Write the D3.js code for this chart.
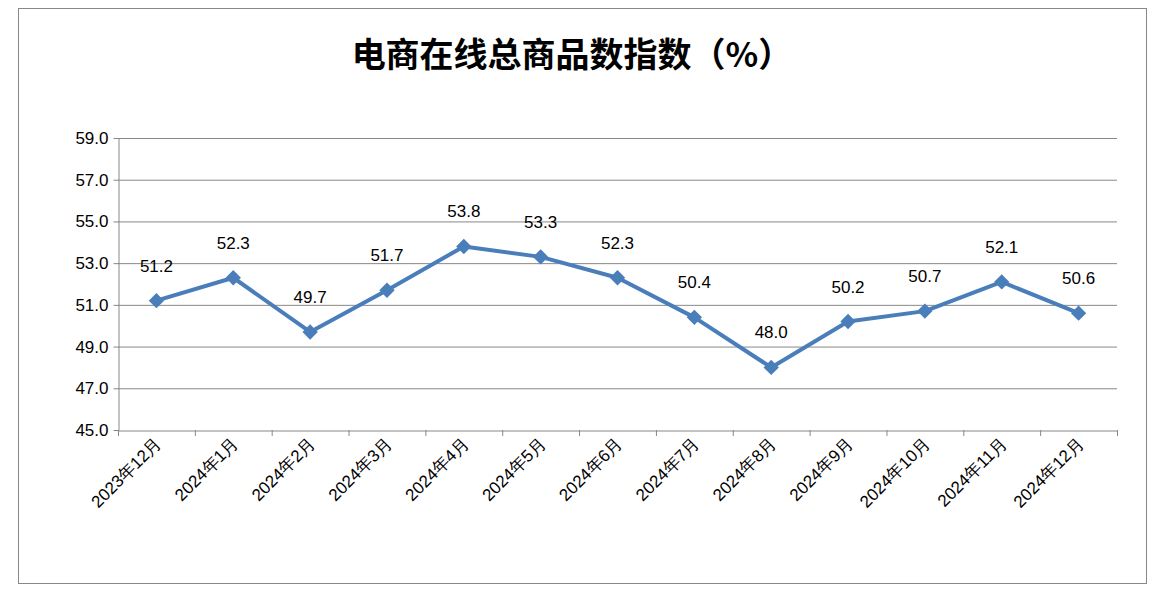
<!DOCTYPE html>
<html lang="zh">
<head>
<meta charset="UTF-8">
<title>电商在线总商品数指数</title>
<script src="https://cdn.jsdelivr.net/npm/d3@7"></script>
<style>
    body { margin: 0; background: #fff; font-family: "Noto Sans CJK SC", "Noto Sans", sans-serif; }
</style>
</head>
<body>
<svg id="chart" width="1162" height="601"></svg>
<script>
    const months = ["2023年12月", "2024年1月", "2024年2月", "2024年3月", "2024年4月", "2024年5月",
        "2024年6月", "2024年7月", "2024年8月", "2024年9月", "2024年10月", "2024年11月", "2024年12月"];
    const values = [51.2, 52.3, 49.7, 51.7, 53.8, 53.3, 52.3, 50.4, 48.0, 50.2, 50.7, 52.1, 50.6];
    const yTicks = [45, 47, 49, 51, 53, 55, 57, 59];

    const svg = d3.select("#chart");
    const plotLeft = 118, plotRight = 1117, plotTop = 138, plotBottom = 430;

    svg.append("rect").attr("x", 18.5).attr("y", 8.5).attr("width", 1128).attr("height", 575)
        .attr("fill", "#fff").attr("stroke", "#888").attr("stroke-width", 1);

    svg.append("text").attr("x", 572).attr("y", 67).attr("text-anchor", "middle")
        .attr("font-size", 34).attr("font-weight", "bold").attr("fill", "#000")
        .text("电商在线总商品数指数（%）");

    const x = d3.scaleBand().domain(months).range([plotLeft, plotRight]);
    const y = d3.scaleLinear().domain([45, 59]).range([plotBottom, plotTop]);

    // gridlines
    svg.append("g").selectAll("line").data(yTicks.slice(1)).enter().append("line")
        .attr("x1", plotLeft).attr("x2", plotRight)
        .attr("y1", d => y(d) + 0.5).attr("y2", d => y(d) + 0.5)
        .attr("stroke", "#888").attr("stroke-width", 1);

    const yAxis = svg.append("g").attr("transform", `translate(${plotLeft + 0.5},0)`)
        .call(d3.axisLeft(y).tickValues(yTicks).tickFormat(d3.format(".1f")).tickSize(5).tickSizeOuter(0));
    yAxis.selectAll("text").attr("font-size", 17).attr("fill", "#000").attr("x", -10)
        .attr("font-family", "Liberation Sans, Arial, sans-serif");
    yAxis.selectAll("line, path").attr("stroke", "#888");

    const xAxis = svg.append("g").attr("transform", `translate(0,${plotBottom + 0.5})`)
        .call(d3.axisBottom(x).tickSize(0).tickSizeOuter(0));
    xAxis.select("path").attr("stroke", "#888");
    xAxis.selectAll("text").attr("font-size", 17).attr("fill", "#000")
        .attr("text-anchor", "end").attr("dy", 0).attr("y", 0)
        .attr("transform", "translate(6,14) rotate(-45)");
    // tick marks between bands
    svg.append("g").selectAll("line").data(d3.range(months.length + 1)).enter().append("line")
        .attr("x1", i => plotLeft + i * x.step() + 0.5).attr("x2", i => plotLeft + i * x.step() + 0.5)
        .attr("y1", plotBottom).attr("y2", plotBottom + 6).attr("stroke", "#888");

    const cx = d => x(d) + x.bandwidth() / 2;
    const line = d3.line().x((d, i) => cx(months[i])).y(d => y(d));
    svg.append("path").datum(values).attr("fill", "none").attr("stroke", "#4a7ebb")
        .attr("stroke-width", 4).attr("stroke-linejoin", "round").attr("d", line);

    svg.append("g").selectAll("path").data(values).enter().append("path")
        .attr("d", d3.symbol().type(d3.symbolDiamond2).size(150))
        .attr("transform", (d, i) => `translate(${cx(months[i])},${y(d)})`)
        .attr("fill", "#4a7ebb");

    svg.append("g").selectAll("text").data(values).enter().append("text")
        .attr("x", (d, i) => cx(months[i])).attr("y", d => y(d) - 29)
        .attr("text-anchor", "middle").attr("font-size", 17).attr("fill", "#000")
        .attr("font-family", "Liberation Sans, Arial, sans-serif")
        .text(d => d.toFixed(1));
</script>
</body>
</html>
